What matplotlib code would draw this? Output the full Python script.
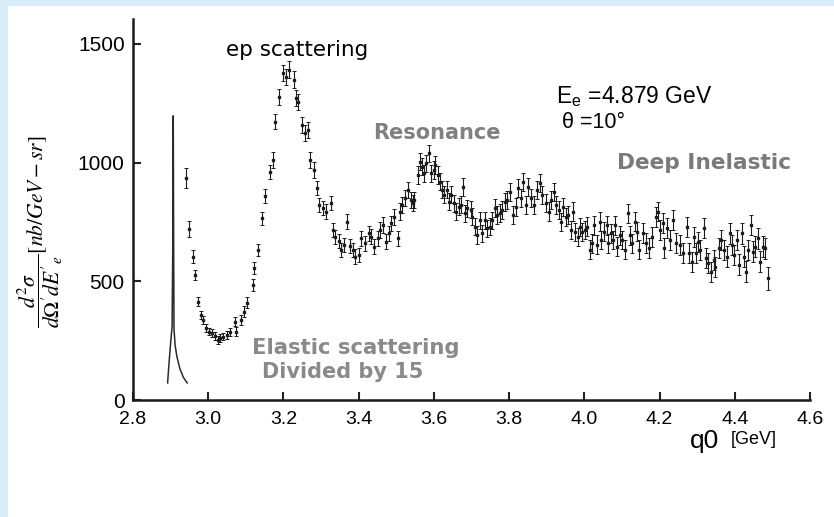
import numpy as np
import matplotlib
matplotlib.use("Agg")
import matplotlib.pyplot as plt
from matplotlib.patches import Rectangle

# elastic peak (divided by 15)
elastic_q0 = [2.892, 2.896, 2.900, 2.904, 2.906, 2.907, 2.908, 2.909, 2.912, 2.917, 2.925, 2.934, 2.944]
elastic_xsec = [72, 160, 240, 310, 700, 1197, 700, 300, 230, 181, 130, 95, 72]

q0_a = [2.941, 2.950, 2.959, 2.966, 2.972, 2.981, 2.987, 2.994, 3.001, 3.010,
        3.018, 3.026, 3.032, 3.040, 3.050, 3.058, 3.072, 3.074, 3.087, 3.096,
        3.104, 3.119, 3.122, 3.132, 3.143, 3.152, 3.163, 3.172, 3.178, 3.189,
        3.199, 3.207, 3.216, 3.227, 3.233, 3.240, 3.249]
xs_a = [937, 720, 604, 527, 414, 358, 337, 305, 288, 281,
        270, 253, 261, 267, 274, 288, 330, 288, 337, 372,
        410, 485, 555, 632, 765, 860, 962, 1011, 1173, 1278,
        1377, 1362, 1391, 1349, 1271, 1257, 1159]
err_a = [42, 35, 28, 22, 20, 18, 17, 17, 16, 16,
         16, 16, 16, 16, 16, 17, 20, 20, 20, 22,
         22, 24, 25, 26, 28, 30, 30, 32, 32, 34,
         34, 34, 36, 36, 34, 34, 34]

q0_b = [3.258, 3.265, 3.271, 3.280, 3.289, 3.295, 3.305, 3.314, 3.326, 3.331,
        3.338, 3.347, 3.353, 3.360, 3.369, 3.378, 3.385, 3.391, 3.400, 3.407,
        3.418, 3.427, 3.433, 3.442, 3.451, 3.458, 3.465, 3.474, 3.480, 3.486,
        3.495, 3.504, 3.509, 3.516, 3.524, 3.531, 3.538, 3.545, 3.548, 3.557,
        3.562, 3.569, 3.575, 3.580, 3.586, 3.593, 3.600, 3.604, 3.610, 3.616,
        3.622, 3.628, 3.635, 3.640, 3.646, 3.653, 3.660, 3.666, 3.672, 3.677,
        3.684, 3.689, 3.698, 3.702, 3.708, 3.715, 3.722, 3.729, 3.735, 3.742,
        3.749, 3.755, 3.762, 3.768, 3.775, 3.782, 3.788, 3.795, 3.802, 3.811,
        3.817, 3.823, 3.831, 3.838, 3.844, 3.850, 3.859, 3.866]
xs_b = [1124, 1138, 1011, 969, 892, 822, 808, 794, 829, 716,
        688, 670, 632, 653, 751, 649, 632, 604, 611, 681,
        660, 702, 688, 646, 681, 716, 737, 667, 702, 745,
        772, 681, 794, 822, 850, 885, 843, 829, 843, 948,
        1004, 983, 955, 997, 1040, 955, 969, 990, 948, 920,
        885, 864, 885, 836, 864, 829, 794, 815, 822, 899,
        787, 808, 801, 772, 730, 695, 758, 702, 758, 724,
        730, 758, 808, 780, 787, 801, 836, 843, 878, 780,
        815, 892, 850, 920, 822, 899, 850, 822]
err_b = [34, 34, 32, 32, 30, 30, 30, 30, 30, 30,
         30, 30, 30, 30, 32, 30, 30, 30, 30, 32,
         32, 32, 32, 32, 32, 32, 32, 32, 32, 32,
         34, 32, 34, 34, 34, 34, 34, 34, 34, 36,
         36, 36, 36, 36, 36, 36, 36, 36, 36, 36,
         36, 36, 36, 36, 36, 36, 36, 36, 36, 38,
         36, 36, 36, 36, 36, 36, 36, 36, 36, 36,
         36, 36, 38, 38, 38, 38, 38, 38, 38, 38,
         38, 38, 38, 38, 38, 38, 38, 38]

q0_c = [3.873, 3.882, 3.888, 3.897, 3.906, 3.912, 3.919, 3.924, 3.933, 3.937,
        3.944, 3.950, 3.957, 3.964, 3.971, 3.974, 3.982, 3.988, 3.995, 4.001,
        4.008, 4.015, 4.021, 4.027, 4.033, 4.041, 4.045, 4.052, 4.059, 4.064,
        4.070, 4.077, 4.081, 4.088, 4.095, 4.101, 4.107, 4.116, 4.121, 4.128,
        4.134, 4.139, 4.145]
xs_c = [885, 913, 864, 829, 794, 843, 878, 822, 801, 751,
        815, 772, 780, 716, 794, 709, 688, 730, 709, 716,
        730, 632, 660, 737, 653, 751, 674, 709, 737, 660,
        702, 674, 737, 646, 695, 674, 632, 787, 695, 660,
        751, 709, 632]
err_c = [38, 38, 38, 38, 38, 38, 38, 38, 38, 38,
         38, 38, 38, 38, 38, 38, 38, 38, 38, 38,
         40, 40, 40, 40, 40, 40, 40, 40, 40, 40,
         40, 40, 40, 40, 40, 40, 40, 40, 40, 40,
         40, 40, 40]

q0_d = [4.155, 4.165, 4.172, 4.181, 4.190, 4.196, 4.201, 4.208, 4.212, 4.219,
        4.228, 4.237, 4.245, 4.254, 4.263, 4.272, 4.279, 4.285, 4.291, 4.297,
        4.303, 4.308, 4.317, 4.324, 4.330, 4.337, 4.344, 4.348, 4.357, 4.364,
        4.371, 4.380, 4.386, 4.392, 4.399, 4.407, 4.410, 4.418, 4.425, 4.431,
        4.436, 4.443, 4.449, 4.455, 4.461, 4.468, 4.474, 4.481, 4.488]
xs_d = [702, 660, 639, 688, 772, 794, 716, 745, 639, 724,
        674, 758, 660, 653, 618, 730, 618, 583, 688, 618,
        667, 632, 724, 597, 576, 541, 590, 562, 639, 674,
        632, 604, 702, 653, 611, 674, 569, 702, 604, 541,
        632, 737, 625, 646, 681, 583, 646, 639, 513]
err_d = [42, 42, 42, 42, 42, 42, 42, 42, 42, 42,
         42, 42, 42, 42, 42, 42, 42, 42, 42, 42,
         42, 42, 42, 42, 42, 42, 42, 42, 42, 42,
         44, 44, 44, 44, 44, 44, 44, 44, 44, 44,
         44, 44, 44, 44, 44, 44, 44, 44, 48]

x_ticks = [2.8, 3.0, 3.2, 3.4, 3.6, 3.8, 4.0, 4.2, 4.4, 4.6]
y_ticks = [0, 500, 1000, 1500]

q0 = np.array(q0_a + q0_b + q0_c + q0_d)
xsec = np.array(xs_a + xs_b + xs_c + xs_d)
err = np.array(err_a + err_b + err_c + err_d)

plt.rcParams['mathtext.fontset'] = 'stix'

fig = plt.figure(figsize=(8.34, 5.17), dpi=100)
fig.patch.set_facecolor('#d6ecf9')
# white slide panel behind everything
fig.patches.append(Rectangle((8 / 834, 0), 1, 1 - 6 / 517, transform=fig.transFigure,
                             facecolor='white', edgecolor='none', zorder=-10))

ax = fig.add_axes([133 / 834, 1 - 400 / 517, 677 / 834, 381 / 517])
ax.set_facecolor('none')
ax.set_zorder(5)

ax.plot(elastic_q0, elastic_xsec, color='#2a2a2a', lw=1.1)
ax.errorbar(q0, xsec, yerr=err, fmt='s', ms=2.0, color='#1c1c1c', mec='#1c1c1c',
            elinewidth=0.8, capsize=1.4, capthick=0.7)

ax.set_xlim(2.8, 4.6)
ax.set_ylim(0, 1605)
ax.set_xticks(x_ticks)
ax.set_yticks(y_ticks)
ax.set_xticklabels([f"{t:.1f}" for t in x_ticks], fontsize=14, family='Liberation Sans')
ax.set_yticklabels([str(t) for t in y_ticks], fontsize=15, family='Liberation Sans')
ax.tick_params(direction='in', length=6, width=1.5, color='#222')
ax.tick_params(axis='x', pad=8)
ax.tick_params(axis='y', pad=6)
for side in ['top', 'right']:
    ax.spines[side].set_visible(False)
for side in ['left', 'bottom']:
    ax.spines[side].set_linewidth(1.8)
    ax.spines[side].set_color('#1a1a1a')

# annotations
ax.text(3.237, 1475, "ep scattering", fontsize=15.5, color='black', ha='center', va='center',
        family='DejaVu Sans')
ax.text(3.607, 1125, "Resonance", fontsize=15, color='#808080', ha='center', va='center',
        family='DejaVu Sans', weight='bold')
ax.text(4.318, 999, "Deep Inelastic", fontsize=15.6, color='#7a7a7a', ha='center', va='center',
        family='DejaVu Sans', weight='bold')
ax.text(3.391, 219, "Elastic scattering", fontsize=15.2, color='#8a8a8a', ha='center', va='center',
        family='DejaVu Sans', weight='bold')
ax.text(3.357, 118, "Divided by 15", fontsize=15, color='#8a8a8a', ha='center', va='center',
        family='DejaVu Sans', weight='bold')
ax.text(3.924, 1281, r"E$_\mathregular{e}$ =4.879 GeV", fontsize=16.5, color='black',
        ha='left', va='center', family='Liberation Sans')
ax.text(3.94, 1171, "\u03b8 =10\u00b0", fontsize=15.5, color='black', ha='left', va='center',
        family='Liberation Sans')

fig.text(690 / 834, 1 - 441 / 517, "q0", fontsize=19, family='Liberation Sans', va='center')
fig.text(731 / 834, 1 - 439 / 517, "[GeV]", fontsize=13, family='Liberation Sans', va='center')

fig.text(40 / 834, 1 - 232 / 517,
         r"$\dfrac{d^2\sigma}{d\Omega' dE'_{e}}[nb/GeV-sr]$",
         rotation=90, fontsize=15.5, ha='center', va='center')

fig.savefig("out.png", dpi=100, facecolor=fig.get_facecolor())
